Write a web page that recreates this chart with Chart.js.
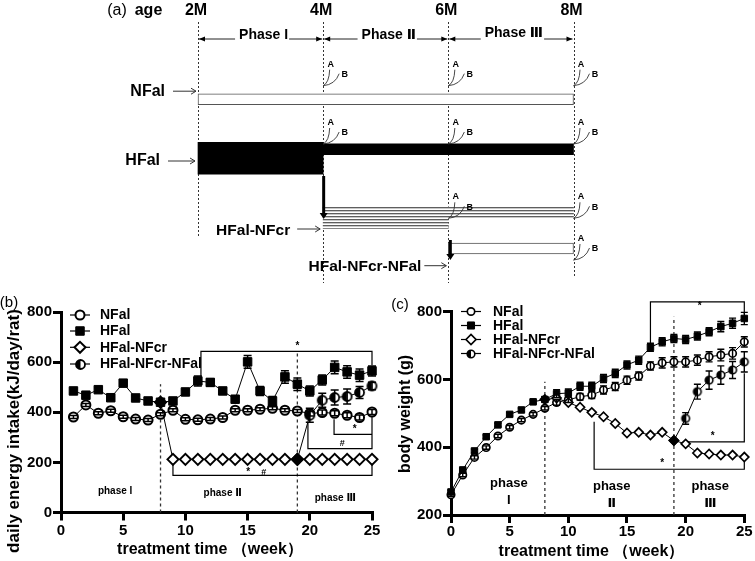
<!DOCTYPE html>
<html><head><meta charset="utf-8">
<script src="https://cdn.jsdelivr.net/npm/chart.js@4.4.1/dist/chart.umd.min.js"></script>
<style>
html,body{margin:0;padding:0;background:#fff;}
#wrap{position:relative;width:755px;height:561px;overflow:hidden;background:#fff;}
#wrap canvas{position:absolute;}
</style></head><body>
<div id="wrap">
<canvas id="ca" width="755" height="295" style="left:0px;top:0px;width:755px;height:295px"></canvas>
<canvas id="cb" width="385" height="271" style="left:0px;top:290px;width:385px;height:271px"></canvas>
<canvas id="cc" width="380" height="271" style="left:375px;top:290px;width:380px;height:271px"></canvas>
</div>
<script>
// ================= DATA =================
// (a) study design schematic (ages in months)
const ageTicks = [2, 4, 6, 8];
const ageLabels = ['2M', '4M', '6M', '8M'];
const phaseLabels = ['Phase I', 'Phase Ⅱ', 'Phase Ⅲ'];
const groupLabels = ['NFal', 'HFal', 'HFal-NFcr', 'HFal-NFcr-NFal'];
const nfalPeriod = [2, 8];
const hfalPeriod1 = [2, 4];
const hfalPeriod2 = [4, 8];
const hfncPeriod1 = [4, 6];
const hfncPeriod2 = [4, 8];
const hfnnPeriod = [6, 8];
const samplingNFal = [4, 6, 8];
const samplingHFal = [4, 6, 8];
const samplingHFNC = [6, 8];
const samplingHFNN = [8];

// (b) daily energy intake (kJ/day/rat)
const weeksB = [1,2,3,4,5,6,7,8,9,10,11,12,13,14,15,16,17,18,19,20,21,22,23,24,25];
const nfalB = [381,429,396,406,382,373,369,392,408,372,370,373,379,408,408,412,416,408,405,395,399,396,388,379,401];
const nfalErrB = [6,6,6,6,6,6,6,6,6,6,6,6,6,6,6,6,6,6,6,10,10,10,10,10,10];
const hfalB = [485,468,490,458,516,457,445,440,445,481,525,519,485,452,601,485,445,541,512,485,529,579,561,548,565];
const hfalErrB = [8,8,8,8,8,8,8,8,8,10,20,15,12,10,25,18,18,25,25,20,20,25,25,25,20];
const hfncWeeksB = [8,9,10,11,12,13,14,15,16,17,18,19,20,21,22,23,24,25];
const hfncB = [440,212,212,212,212,212,212,212,212,212,212,212,212,212,212,212,212,212];
const hfnnWeeksB = [19,20,21,22,23,24,25];
const hfnnB = [212,388,448,459,463,479,505];
const hfnnErrB = [0,28,28,30,30,24,15];

// (c) body weight (g)
const weeksC = [0,1,2,3,4,5,6,7,8,9,10,11,12,13,14,15,16,17,18,19,20,21,22,23,24,25];
const nfalC = [260,318,370,399,433,459,480,497,515,532,540,549,554,569,579,598,610,640,649,652,652,657,667,672,677,711];
const nfalErrC = [5,5,5,5,5,5,5,5,5,8,8,10,10,12,12,12,12,12,15,15,15,15,15,17,17,15];
const hfalC = [268,333,389,431,466,497,510,534,541,558,560,580,580,603,618,643,657,695,711,721,718,728,741,756,766,780];
const hfalErrC = [5,5,5,5,5,5,5,5,8,12,12,12,12,12,12,12,12,12,12,12,12,12,12,15,15,18];
const hfncWeeksC = [8,9,10,11,12,13,14,15,16,17,18,19,20,21,22,23,24,25];
const hfncC = [541,545,532,518,503,490,470,442,444,436,444,420,410,383,380,377,377,371];
const hfnnWeeksC = [19,20,21,22,23,24,25];
const hfnnC = [420,485,564,598,613,628,652];
const hfnnErrC = [0,17,22,27,27,25,30];

const seriesNames = ['NFal', 'HFal', 'HFal-NFcr', 'HFal-NFcr-NFal'];
const xTicksLabelB = 'treatment time （week）';
const yTitleB = 'daily energy intake(kJ/day/rat)';
const yTitleC = 'body weight (g)';

// ================= HELPERS =================
const FONT = '"Liberation Sans", "DejaVu Sans", Arial, sans-serif';
Chart.defaults.font.family = FONT;
Chart.defaults.color = '#000';

function halfCircle(r, lw) {
  const s = Math.ceil(2 * r + lw + 2);
  const c = document.createElement('canvas'); c.width = s; c.height = s;
  const g = c.getContext('2d'); const m = s / 2;
  g.fillStyle = '#fff'; g.beginPath(); g.arc(m, m, r, 0, Math.PI * 2); g.fill();
  g.fillStyle = '#000'; g.beginPath(); g.arc(m, m, r, Math.PI / 2, Math.PI * 1.5); g.closePath(); g.fill();
  g.strokeStyle = '#000'; g.lineWidth = lw; g.beginPath(); g.arc(m, m, r, 0, Math.PI * 2); g.stroke();
  return c;
}
function drawMarker(ctx, st, x, y) {
  ctx.save();
  if (st.type === 'img') { ctx.drawImage(st.img, Math.round(x - st.img.width / 2), Math.round(y - st.img.height / 2)); ctx.restore(); return; }
  ctx.lineWidth = st.lw; ctx.strokeStyle = '#000'; ctx.fillStyle = st.fill;
  ctx.beginPath();
  const r = st.r;
  if (st.type === 'circle') ctx.arc(x, y, r, 0, Math.PI * 2);
  else if (st.type === 'rect') { const s = r * Math.SQRT1_2; ctx.rect(x - s, y - s, 2 * s, 2 * s); }
  else { ctx.moveTo(x - r, y); ctx.lineTo(x, y - r); ctx.lineTo(x + r, y); ctx.lineTo(x, y + r); ctx.closePath(); }
  ctx.fill(); ctx.stroke();
  ctx.restore();
}
function pts(xa, ya) { return xa.map((v, i) => ({ x: v, y: ya[i] })); }

// ================= (a) SCHEMATIC =================
const ctxA = document.getElementById('ca').getContext('2d');
const stripeC = document.createElement('canvas'); stripeC.width = 4; stripeC.height = 3;
(function () { const g = stripeC.getContext('2d'); g.fillStyle = '#fff'; g.fillRect(0, 0, 4, 3); g.fillStyle = '#5e5e5e'; g.fillRect(0, 0, 4, 1); g.fillStyle = '#c8c8c8'; g.fillRect(0, 1, 4, 1); })();
const stripes = ctxA.createPattern(stripeC, 'repeat');

// row layout (y positions in schematic pixel units)
const ROW = { nfal: 91.2, hfalThick: 160, hfalThin: 149.5, hfncWide: 229.2, hfncThin: 223.7, hfnn: 265.4 };
const AGE_LINE_BOTTOM = [237, 283, 283, 277];

function bar(span, yc, th, bg, bc, bw) {
  return { data: [{ x: span, y: yc }], barThickness: th, backgroundColor: bg, borderColor: bc, borderWidth: bw, borderSkipped: false, clip: false };
}

function abMark(ctx, ox, oy) {
  ctx.save();
  ctx.strokeStyle = '#333'; ctx.lineWidth = 0.9;
  ctx.beginPath(); ctx.moveTo(ox, oy); ctx.quadraticCurveTo(ox + 6, oy - 3, ox + 6.5, oy - 16); ctx.stroke();
  ctx.beginPath(); ctx.moveTo(ox, oy); ctx.quadraticCurveTo(ox + 12, oy - 1, ox + 16, oy - 12); ctx.stroke();
  ctx.fillStyle = '#000'; ctx.font = 'bold 9px ' + FONT; ctx.textAlign = 'center'; ctx.textBaseline = 'middle';
  ctx.fillText('A', ox + 7.5, oy - 21.5);
  ctx.fillText('B', ox + 21.5, oy - 11);
  ctx.restore();
}
function thinArrow(ctx, x1, y, x2) {
  ctx.save(); ctx.strokeStyle = '#333'; ctx.lineWidth = 1;
  ctx.beginPath(); ctx.moveTo(x1, y); ctx.lineTo(x2, y); ctx.stroke();
  ctx.beginPath(); ctx.moveTo(x2 - 5, y - 3); ctx.lineTo(x2, y); ctx.lineTo(x2 - 5, y + 3); ctx.stroke();
  ctx.restore();
}
function bigArrow(ctx, x, y1, y2) {
  ctx.save(); ctx.strokeStyle = '#000'; ctx.fillStyle = '#000'; ctx.lineWidth = 3;
  ctx.beginPath(); ctx.moveTo(x, y1); ctx.lineTo(x, y2 - 5); ctx.stroke();
  ctx.beginPath(); ctx.moveTo(x - 4, y2 - 6); ctx.lineTo(x + 4, y2 - 6); ctx.lineTo(x, y2); ctx.closePath(); ctx.fill();
  ctx.restore();
}
function headH(ctx, x, y, dir) {
  ctx.beginPath(); ctx.moveTo(x, y); ctx.lineTo(x - dir * 6, y - 2.5); ctx.lineTo(x - dir * 6, y + 2.5); ctx.closePath(); ctx.fill();
}

const schemePlugin = {
  id: 'scheme',
  beforeDatasetsDraw(chart) {
    const { ctx, scales: { x } } = chart;
    ctx.save(); ctx.setLineDash([2, 2]); ctx.strokeStyle = '#333'; ctx.lineWidth = 1;
    ageTicks.forEach((a, i) => {
      const px = Math.round(x.getPixelForValue(a)) + 0.5;
      ctx.beginPath(); ctx.moveTo(px, 22); ctx.lineTo(px, AGE_LINE_BOTTOM[i]); ctx.stroke();
    });
    ctx.restore();
  },
  afterDatasetsDraw(chart) {
    const { ctx, scales: { x } } = chart;
    const X = v => x.getPixelForValue(v);
    ctx.save();
    ctx.fillStyle = '#000'; ctx.textBaseline = 'middle'; ctx.textAlign = 'center';
    ctx.font = '16px ' + FONT; ctx.fillText('(a)', 117, 11);
    ctx.font = 'bold 16px ' + FONT; ctx.fillText('age', 148.5, 11);
    ageTicks.forEach((a, i) => ctx.fillText(ageLabels[i], X(a) - 2, 11));
    // phase arrows
    ctx.font = 'bold 14px ' + FONT; ctx.strokeStyle = '#222'; ctx.lineWidth = 1;
    for (let i = 0; i < 3; i++) {
      const xl = X(ageTicks[i]) + 1, xr = X(ageTicks[i + 1]) - 1;
      const cx = (xl + xr) / 2 + 3; const ty = i === 2 ? 33.5 : 35.5; const ly = 39;
      const w = ctx.measureText(phaseLabels[i]).width;
      ctx.fillText(phaseLabels[i], cx, ty);
      ctx.beginPath(); ctx.moveTo(xl, ly); ctx.lineTo(cx - w / 2 - 4, ly); ctx.moveTo(cx + w / 2 + 1, ly); ctx.lineTo(xr, ly); ctx.stroke();
      headH(ctx, xl, ly, -1); headH(ctx, xr, ly, 1);
    }
    // group labels
    ctx.font = 'bold 16px ' + FONT; ctx.textAlign = 'right';
    const s0 = X(nfalPeriod[0]), s1 = X(hfncPeriod2[0]), s2 = X(hfnnPeriod[0]);
    ctx.fillText(groupLabels[0], s0 - 33, ROW.nfal); thinArrow(ctx, s0 - 25, ROW.nfal, s0 - 2);
    ctx.fillText(groupLabels[1], s0 - 38, 161); thinArrow(ctx, s0 - 30, 161, s0 - 3);
    ctx.font = 'bold 15.5px ' + FONT;
    ctx.fillText(groupLabels[2], s1 - 33, 230.5); thinArrow(ctx, s1 - 26, 229, s1 - 3);
    ctx.fillText(groupLabels[3], s2 - 27, 266.5); thinArrow(ctx, s2 - 24, 265.7, s2 - 2);
    // transfer arrows
    bigArrow(ctx, X(hfalPeriod1[1]) + 0.5, 176, 219);
    bigArrow(ctx, X(hfncPeriod1[1]) + 2, 240, 260);
    // sampling marks A/B
    samplingNFal.forEach(a => abMark(ctx, X(a), ROW.nfal - 5.5));
    samplingHFal.forEach(a => abMark(ctx, X(a), ROW.hfalThin - 5.5));
    samplingHFNC.forEach(a => abMark(ctx, X(a), ROW.hfncThin - 5.4));
    samplingHFNN.forEach(a => abMark(ctx, X(a), ROW.hfnn - 5.4));
    ctx.restore();
  }
};

new Chart(ctxA, {
  type: 'bar',
  data: {
    datasets: [
      bar(nfalPeriod, ROW.nfal, 11, '#fff', '#555', 1),
      bar(hfalPeriod1, ROW.hfalThick, 32, '#000', '#000', 0),
      bar(hfalPeriod2, ROW.hfalThin, 11, '#000', '#000', 0),
      bar(hfncPeriod1, ROW.hfncWide, 21.8, stripes, '#888', 0),
      bar(hfncPeriod2, ROW.hfncThin, 10.8, stripes, '#888', 0),
      bar(hfnnPeriod, ROW.hfnn, 10.8, '#fff', '#555', 1)
    ]
  },
  options: {
    indexAxis: 'y', responsive: false, animation: false, devicePixelRatio: 1,
    layout: { padding: { left: 198, right: 181.5, top: 0, bottom: 0 } },
    plugins: { legend: { display: false }, tooltip: { enabled: false } },
    datasets: { bar: { grouped: false } },
    scales: {
      x: { type: 'linear', min: 2, max: 8, display: false },
      y: { type: 'linear', min: 0, max: 295, reverse: true, display: false }
    }
  },
  plugins: [schemePlugin]
});

// ================= (b) and (c) LINE PANELS =================
function axisOpts(min, max, step, fit, pad) {
  return {
    type: 'linear', min: min, max: max,
    ticks: { stepSize: step, color: '#000', font: { family: FONT, size: 15, weight: 'bold' }, padding: pad, maxRotation: 0, autoSkip: false },
    grid: { display: true, drawOnChartArea: false, drawTicks: true, tickLength: 8, lineWidth: 3, tickWidth: 3, color: '#000' },
    border: { display: true, width: 3, color: '#000' },
    afterFit: fit
  };
}

function panelPlugin(P) {
  return {
    id: 'panel' + P.id,
    beforeDatasetsDraw(chart) {
      const { ctx, scales: { x, y } } = chart;
      ctx.save(); ctx.setLineDash([3, 3]); ctx.strokeStyle = '#333'; ctx.lineWidth = 1.3;
      P.ann.dashed.forEach(([w, v1, v2]) => {
        const px = x.getPixelForValue(w);
        ctx.beginPath(); ctx.moveTo(px, y.getPixelForValue(v1)); ctx.lineTo(px, y.getPixelForValue(v2)); ctx.stroke();
      });
      ctx.restore();
    },
    afterDatasetsDraw(chart) {
      const { ctx, scales: { x, y } } = chart;
      ctx.save(); ctx.strokeStyle = '#000'; ctx.lineWidth = P.errLw;
      chart.data.datasets.forEach(ds => {
        if (!ds.errors) return;
        ds.data.forEach((p, i) => {
          const e = ds.errors[i]; if (!e) return;
          const px = x.getPixelForValue(p.x), yt = y.getPixelForValue(p.y + e), yb = y.getPixelForValue(p.y - e);
          ctx.beginPath();
          ctx.moveTo(px, yt); ctx.lineTo(px, yb);
          ctx.moveTo(px - P.cap, yt); ctx.lineTo(px + P.cap, yt);
          ctx.moveTo(px - P.cap, yb); ctx.lineTo(px + P.cap, yb);
          ctx.stroke();
        });
      });
      ctx.restore();
    },
    afterDraw(chart) {
      const { ctx, scales: { x, y } } = chart;
      const X = v => x.getPixelForValue(v), Y = v => y.getPixelForValue(v);
      ctx.save();
      // significance brackets
      ctx.strokeStyle = '#000'; ctx.lineWidth = 1.2;
      P.ann.brackets.forEach(([x1, x2, yh, l1, l2]) => {
        ctx.beginPath();
        if (l1 != null) { ctx.moveTo(X(x1), Y(l1)); ctx.lineTo(X(x1), Y(yh)); } else ctx.moveTo(X(x1), Y(yh));
        ctx.lineTo(X(x2), Y(yh));
        if (l2 != null) ctx.lineTo(X(x2), Y(l2));
        ctx.stroke();
      });
      ctx.fillStyle = '#000'; ctx.textAlign = 'center'; ctx.textBaseline = 'middle';
      P.ann.marks.forEach(([t, w, v, s]) => { ctx.font = 'bold ' + s + 'px ' + FONT; ctx.fillText(t, X(w), Y(v)); });
      // phase labels
      ctx.font = 'bold ' + P.phaseSize + 'px ' + FONT;
      P.ann.phases.forEach(([lines, w, vs]) => lines.forEach((t, k) => ctx.fillText(t, X(w), Y(vs[k]))));
      // legend
      const L = P.legend;
      L.ys.forEach((ly, i) => {
        ctx.strokeStyle = '#000'; ctx.lineWidth = 1.2;
        ctx.beginPath(); ctx.moveTo(L.x1, ly); ctx.lineTo(L.x2, ly); ctx.stroke();
        drawMarker(ctx, L.styles[i], L.mx, ly);
        ctx.fillStyle = '#000'; ctx.textAlign = 'left'; ctx.font = 'bold 14px ' + FONT;
        ctx.fillText(seriesNames[i], L.tx, ly + 0.5);
      });
      // titles
      ctx.textAlign = 'center';
      ctx.font = 'bold 16px ' + FONT;
      ctx.fillText(P.xTitle.t, P.xTitle.x, P.xTitle.y);
      ctx.save(); ctx.translate(P.yTitle.x, P.yTitle.y); ctx.rotate(-Math.PI / 2);
      ctx.font = 'bold ' + P.yTitle.s + 'px ' + FONT; ctx.fillText(P.yTitle.t, 0, 0); ctx.restore();
      ctx.font = '15px ' + FONT; ctx.fillText(P.letter.t, P.letter.x, P.letter.y);
      ctx.restore();
    }
  };
}

function buildLine(id, P) {
  return new Chart(document.getElementById(id).getContext('2d'), {
    type: 'line',
    data: { datasets: P.datasets },
    options: {
      responsive: false, animation: false, devicePixelRatio: 1,
      layout: { padding: P.padding },
      plugins: { legend: { display: false }, tooltip: { enabled: false } },
      elements: { line: { tension: 0 } },
      scales: {
        x: axisOpts(0, 25, 5, s => { s.height = P.xh; }, P.xpad),
        y: axisOpts(P.ymin, 800, 200, s => { s.width = P.yw; }, 1)
      }
    },
    plugins: [panelPlugin(P)]
  });
}

function lineDs(label, data, errs, order, o) {
  return Object.assign({ label: label, data: data, errors: errs, order: order, borderColor: '#000', borderWidth: 1, clip: false, pointBorderColor: '#000' }, o);
}
function fillArr(n, special, base) { return Array.from({ length: n }, (_, i) => special.includes(i) ? '#000' : base); }

// ---- (b)
const halfB = halfCircle(4.5, 1.8);
const stB = [
  { type: 'circle', r: 4.5, lw: 2, fill: '#fff' },
  { type: 'rect', r: 6, lw: 1, fill: '#000' },
  { type: 'rectRot', r: 5.5, lw: 2, fill: '#fff' },
  { type: 'img', img: halfB }
];
buildLine('cb', {
  id: 'b', xh: 48.5, yw: 61, ymin: 0, xpad: 1,
  padding: { left: 0, right: 13, top: 22, bottom: 0 },
  errLw: 1.5, cap: 4, phaseSize: 10,
  datasets: [
    lineDs('HFal-NFcr-NFal', pts(hfnnWeeksB, hfnnB), hfnnErrB, 0, { pointStyle: hfnnB.map((_, i) => i === 0 ? 'rectRot' : halfB), pointRadius: 5.5, pointBorderWidth: 2, pointBackgroundColor: fillArr(hfnnB.length, [0], '#fff') }),
    lineDs('HFal-NFcr', pts(hfncWeeksB, hfncB), null, 1, { pointStyle: 'rectRot', pointRadius: 5.5, pointBorderWidth: 2, pointBackgroundColor: fillArr(hfncB.length, [0, 11], '#fff') }),
    lineDs('HFal', pts(weeksB, hfalB), hfalErrB, 2, { pointStyle: 'rect', pointRadius: 6, pointBorderWidth: 1, pointBackgroundColor: '#000' }),
    lineDs('NFal', pts(weeksB, nfalB), nfalErrB, 3, { pointStyle: 'circle', pointRadius: 4.5, pointBorderWidth: 2, pointBackgroundColor: '#fff' })
  ],
  ann: {
    dashed: [[8, 0, 512], [19, 0, 645]],
    brackets: [
      [11.25, 25, 643, 545, 588],
      [9, 25, 148, 196, 196],
      [19.85, 25, 255, 358, 385],
      [21.95, 25, 312, 372, null]
    ],
    marks: [['*', 19, 662, 10], ['*', 15.05, 160, 10], ['#', 16.3, 160, 9], ['#', 22.6, 275, 9], ['*', 23.6, 334, 10]],
    phases: [[['phase I'], 4.35, [85]], [['phase Ⅱ'], 13.0, [76]], [['phase Ⅲ'], 22.05, [56]]]
  },
  legend: { ys: [25, 41, 57.3, 74], x1: 70, x2: 90, mx: 80, tx: 100, styles: stB },
  xTitle: { t: xTicksLabelB, x: 210, y: 260 },
  yTitle: { t: yTitleB, x: 14, y: 141, s: 17 },
  letter: { t: '(b)', x: 9, y: 13 }
});

// ---- (c)
const halfC = halfCircle(3.8, 1.6);
const stC = [
  { type: 'circle', r: 3.7, lw: 1.7, fill: '#fff' },
  { type: 'rect', r: 5, lw: 1, fill: '#000' },
  { type: 'rectRot', r: 5, lw: 1.7, fill: '#fff' },
  { type: 'img', img: halfC }
];
buildLine('cc', {
  id: 'c', xh: 46, yw: 76, ymin: 200, xpad: 0,
  padding: { left: 0, right: 10.7, top: 21.7, bottom: 0 },
  errLw: 1.4, cap: 3.5, phaseSize: 13,
  datasets: [
    lineDs('HFal-NFcr-NFal', pts(hfnnWeeksC, hfnnC), hfnnErrC, 0, { pointStyle: hfnnC.map((_, i) => i === 0 ? 'rectRot' : halfC), pointRadius: 4.5, pointBorderWidth: 1.7, pointBackgroundColor: fillArr(hfnnC.length, [0], '#fff') }),
    lineDs('HFal-NFcr', pts(hfncWeeksC, hfncC), null, 1, { pointStyle: 'rectRot', pointRadius: 4.5, pointBorderWidth: 1.7, pointBackgroundColor: fillArr(hfncC.length, [0, 11], '#fff') }),
    lineDs('HFal', pts(weeksC, hfalC), hfalErrC, 2, { pointStyle: 'rect', pointRadius: 4.6, pointBorderWidth: 1, pointBackgroundColor: '#000' }),
    lineDs('NFal', pts(weeksC, nfalC), nfalErrC, 3, { pointStyle: 'circle', pointRadius: 3.7, pointBorderWidth: 1.7, pointBackgroundColor: '#fff' })
  ],
  ann: {
    dashed: [[8, 200, 593], [19, 200, 785]],
    brackets: [
      [17, 25, 829, 705, 795],
      [20.2, 25, 416, null, 618],
      [12.2, 25, 335, 475, 358]
    ],
    marks: [['*', 21.2, 817, 10], ['*', 22.3, 431, 10], ['*', 18.0, 352, 10]],
    phases: [[['phase', 'I'], 4.93, [293, 244]], [['phase', 'Ⅱ'], 13.7, [284, 234]], [['phase', 'Ⅲ'], 22.1, [284, 234]]]
  },
  legend: { ys: [21.5, 35.5, 49.5, 63.5], x1: 86, x2: 106, mx: 96, tx: 118, styles: stC },
  xTitle: { t: xTicksLabelB, x: 216.5, y: 261.5 },
  yTitle: { t: yTitleC, x: 31, y: 124, s: 16 },
  letter: { t: '(c)', x: 25, y: 15 }
});
</script>
</body></html>
